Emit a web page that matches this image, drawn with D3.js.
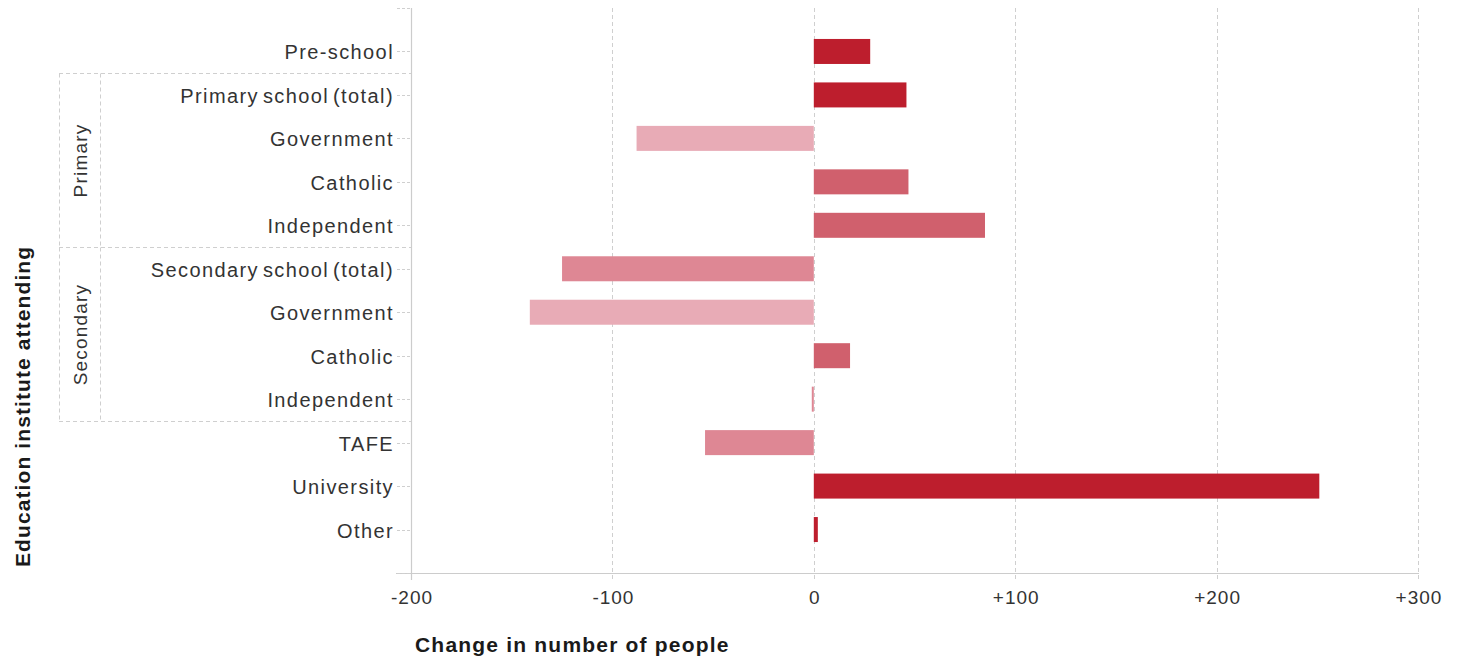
<!DOCTYPE html>
<html>
<head>
<meta charset="utf-8">
<script src="https://cdn.jsdelivr.net/npm/d3@7/dist/d3.min.js"></script>
<style>
  html, body { margin: 0; padding: 0; background: #fff; }
  svg { display: block; }
  text { font-family: "Liberation Sans", Arial, sans-serif; fill: #333; }
</style>
</head>
<body>
<svg id="chart" width="1460" height="658"></svg>
<script>
// ---- data ----
const categories = ["Pre-school", "Primary school (total)", "Government", "Catholic", "Independent",
  "Secondary school (total)", "Government", "Catholic", "Independent", "TAFE", "University", "Other"];
const values = [28, 46, -88, 47, 85, -125, -141, 18, -1, -54, 251, 2];
const shadeTier = [3, 3, 0, 2, 2, 1, 0, 2, 1, 1, 3, 3];
const groups = [
  { name: "Primary", first: 1, last: 4 },
  { name: "Secondary", first: 5, last: 8 }
];
const xTicks = [-200, -100, 0, 100, 200, 300];
const xTickLabels = ["-200", "-100", "0", "+100", "+200", "+300"];
const xTitle = "Change in number of people";
const yTitle = "Education institute attending";

// ---- styles ----
const tierColors = ["#E8ABB6", "#DE8794", "#D0606D", "#BD1E2D"];
const gridColor = "#cfcfcf";

const svg = d3.select("#chart");
const idx = d3.range(categories.length);

const x = d3.scaleLinear().domain([-200, 300]).range([411, 1418]);
const y = d3.scalePoint().domain(idx).range([8, 573]).padding(1);
const step = y.step();
const barH = 25;
const axisX = Math.round(x(-200));

// grid lines
svg.append("g").selectAll("line").data(xTicks.slice(1)).join("line")
  .attr("x1", d => Math.round(x(d)) + 0.5).attr("x2", d => Math.round(x(d)) + 0.5)
  .attr("y1", 8).attr("y2", 580)
  .attr("stroke", gridColor).attr("stroke-width", 1)
  .attr("stroke-dasharray", "4,3");

// x axis line
svg.append("line")
  .attr("x1", 396).attr("x2", x(300) + 1)
  .attr("y1", 573.5).attr("y2", 573.5)
  .attr("stroke", "#cccccc").attr("stroke-width", 1.2);

// y axis line
svg.append("line")
  .attr("x1", axisX + 0.5).attr("x2", axisX + 0.5)
  .attr("y1", 8).attr("y2", 580)
  .attr("stroke", "#cccccc").attr("stroke-width", 1.2);

// y ticks (category ticks + range-end ticks)
const tickYs = idx.map(i => y(i)).concat([8, 573]);
svg.append("g").selectAll("line").data(tickYs).join("line")
  .attr("x1", 397).attr("x2", axisX)
  .attr("y1", d => Math.round(d) + 0.5).attr("y2", d => Math.round(d) + 0.5)
  .attr("stroke", gridColor).attr("stroke-width", 1)
  .attr("stroke-dasharray", "3,2");

// bars
svg.append("g").selectAll("rect").data(idx).join("rect")
  .attr("x", i => Math.min(x(0), x(values[i])))
  .attr("width", i => Math.max(1, Math.abs(x(values[i]) - x(0))))
  .attr("y", i => y(i) - barH / 2)
  .attr("height", barH)
  .attr("fill", i => tierColors[shadeTier[i]]);

// category labels
svg.append("g").selectAll("text").data(idx).join("text")
  .attr("x", 394)
  .attr("y", i => y(i) + 1)
  .attr("dy", "0.35em")
  .attr("text-anchor", "end")
  .style("font-size", "20px")
  .style("letter-spacing", "1.4px")
  .style("word-spacing", "-3px")
  .text(i => categories[i]);

// group boxes
const boxLeft = 59, boxDiv = 100, boxRight = axisX;
groups.forEach(g => {
  const top = Math.round(y(g.first) - step / 2) + 0.5;
  const bot = Math.round(y(g.last) + step / 2) + 0.5;
  const gg = svg.append("g").attr("stroke", gridColor).attr("stroke-dasharray", "4,3").attr("fill", "none");
  gg.append("line").attr("x1", boxLeft).attr("x2", boxRight).attr("y1", top).attr("y2", top);
  gg.append("line").attr("x1", boxLeft).attr("x2", boxRight).attr("y1", bot).attr("y2", bot);
  gg.append("line").attr("x1", boxLeft + 0.5).attr("x2", boxLeft + 0.5).attr("y1", top).attr("y2", bot);
  gg.append("line").attr("x1", boxDiv + 0.5).attr("x2", boxDiv + 0.5).attr("y1", top).attr("y2", bot);
  const cy = (top + bot) / 2;
  svg.append("text")
    .attr("transform", `translate(${(boxLeft + boxDiv) / 2 + 1},${cy}) rotate(-90)`)
    .attr("text-anchor", "middle")
    .attr("dy", "0.35em")
    .style("font-size", "19px")
    .style("letter-spacing", "1.2px")
    .text(g.name);
});

// x tick labels
svg.append("g").selectAll("text").data(xTicks).join("text")
  .attr("x", (d, i) => x(d) + 1)
  .attr("y", 604)
  .attr("text-anchor", "middle")
  .style("font-size", "19px")
  .style("letter-spacing", "1px")
  .text((d, i) => xTickLabels[i]);

// axis titles
svg.append("text")
  .attr("x", 415).attr("y", 652)
  .style("font-size", "21px").style("font-weight", "bold")
  .style("letter-spacing", "1.2px")
  .style("fill", "#1a1a1a")
  .text(xTitle);

svg.append("text")
  .attr("transform", "translate(30,567) rotate(-90)")
  .style("font-size", "21px").style("font-weight", "bold")
  .style("letter-spacing", "1.1px")
  .style("fill", "#1a1a1a")
  .text(yTitle);
</script>
</body>
</html>
